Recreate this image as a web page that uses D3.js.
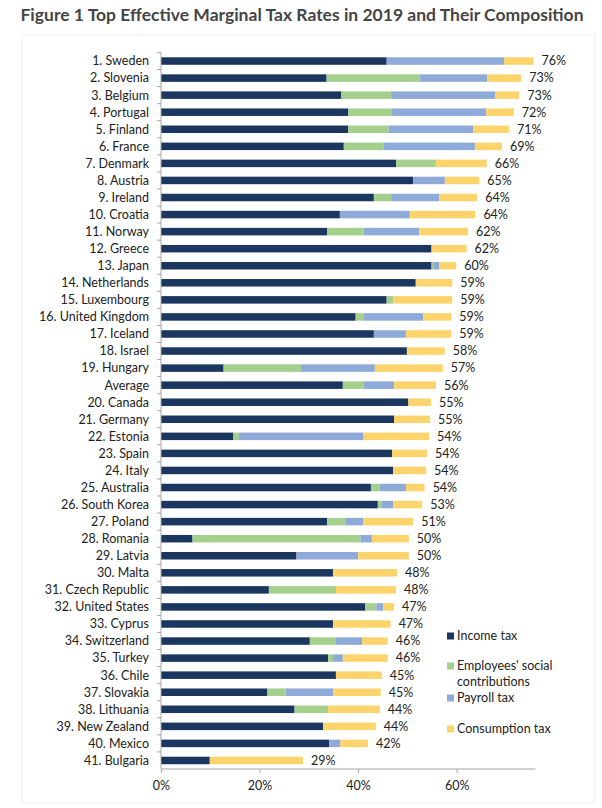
<!DOCTYPE html>
<html>
<head>
<meta charset="utf-8">
<script src="https://cdn.jsdelivr.net/npm/d3@7"></script>
<style>
  body { margin: 0; background: #fff; }
  text { font-family: Lato, "Open Sans", sans-serif; }
</style>
</head>
<body>
<svg id="chart"></svg>
<script>
var w = 602;
var h = 808;

var countries = ["1. Sweden", "2. Slovenia", "3. Belgium", "4. Portugal", "5. Finland", "6. France",
  "7. Denmark", "8. Austria", "9. Ireland", "10. Croatia", "11. Norway", "12. Greece", "13. Japan",
  "14. Netherlands", "15. Luxembourg", "16. United Kingdom", "17. Iceland", "18. Israel", "19. Hungary",
  "Average", "20. Canada", "21. Germany", "22. Estonia", "23. Spain", "24. Italy", "25. Australia",
  "26. South Korea", "27. Poland", "28. Romania", "29. Latvia", "30. Malta", "31. Czech Republic",
  "32. United States", "33. Cyprus", "34. Switzerland", "35. Turkey", "36. Chile", "37. Slovakia",
  "38. Lithuania", "39. New Zealand", "40. Mexico", "41. Bulgaria"];

// percentage points
var incomeTax = [45.8, 33.6, 36.6, 38.0, 38.0, 37.1, 47.7, 51.2, 43.2, 36.3, 33.7, 54.9, 54.9,
  51.7, 45.8, 39.5, 43.2, 49.9, 12.7, 36.9, 50.2, 47.3, 14.7, 46.9, 47.1, 42.6, 44.0, 33.7,
  6.4, 27.5, 34.9, 21.9, 41.4, 34.9, 30.2, 33.9, 35.5, 21.6, 27.1, 32.9, 34.1, 9.9];
var socialContrib = [0, 18.9, 10.1, 8.9, 8.2, 8.1, 8.1, 0, 3.5, 0, 7.4, 0, 0.5,
  0, 1.3, 1.6, 0, 0, 15.7, 4.2, 0, 0, 1.1, 0, 0, 1.8, 0.8, 3.7,
  34.1, 0, 0, 13.6, 2.3, 0, 5.3, 1.0, 0, 3.7, 6.8, 0, 0, 0];
var payrollTax = [23.8, 13.7, 21.2, 19.1, 17.2, 18.5, 0, 6.4, 9.8, 14.2, 11.3, 0, 1.1,
  0, 0, 12.1, 6.5, 0, 15.0, 6.2, 0, 0, 25.3, 0, 0, 5.3, 2.3, 3.6,
  2.3, 12.5, 0, 0, 1.4, 0, 5.3, 2.0, 0, 9.7, 0, 0, 2.3, 0];
var consumptionTax = [6.0, 6.9, 4.8, 5.6, 7.2, 5.5, 10.3, 7.0, 7.7, 13.3, 9.9, 7.1, 3.4,
  7.4, 12.0, 5.7, 9.2, 7.7, 13.8, 8.5, 4.6, 7.3, 13.3, 7.1, 6.7, 3.8, 5.9, 10.2,
  7.5, 10.3, 13.0, 12.2, 2.2, 11.7, 5.2, 9.1, 9.3, 9.6, 10.5, 10.7, 5.6, 18.9];
var totalLabels = ["76%", "73%", "73%", "72%", "71%", "69%", "66%", "65%", "64%", "64%", "62%",
  "62%", "60%", "59%", "59%", "59%", "59%", "58%", "57%", "56%", "55%", "55%", "54%", "54%",
  "54%", "54%", "53%", "51%", "50%", "50%", "48%", "48%", "47%", "47%", "46%", "46%", "45%",
  "45%", "44%", "44%", "42%", "29%"];

var seriesKeys = ["income", "social", "payroll", "consumption"];
var seriesNames = ["Income tax", "Employees' social|contributions", "Payroll tax", "Consumption tax"];
var seriesColors = ["#1b365f", "#a4cf8c", "#8eaad8", "#fdd46c"];
var xTicks = [0, 20, 40, 60];

var rows = countries.map(function (c, i) {
  return { name: c, income: incomeTax[i], social: socialContrib[i],
    payroll: payrollTax[i], consumption: consumptionTax[i], label: totalLabels[i] };
});

var svg = d3.select("#chart").attr("width", w).attr("height", h);

// faint chart frame
svg.append("rect")
  .attr("x", 22).attr("y", 35).attr("width", 573).attr("height", 768)
  .attr("fill", "none").attr("stroke", "#efefef");

svg.append("text")
  .attr("x", 302).attr("y", 21)
  .attr("text-anchor", "middle")
  .style("font-size", "17.5px").style("font-weight", "bold")
  .attr("fill", "#454545")
  .text("Figure 1 Top Effective Marginal Tax Rates in 2019 and Their Composition");

var x = d3.scaleLinear().domain([0, 76]).range([161, 535.5]);
var y = d3.scaleBand().domain(countries).range([52.5, 769]).paddingInner(0.56).paddingOuter(0.28);

var stacked = d3.stack().keys(seriesKeys)(rows);

svg.append("g").selectAll("g")
  .data(stacked)
  .enter().append("g")
  .attr("fill", function (d, i) { return seriesColors[i]; })
  .selectAll("rect")
  .data(function (d) { return d; })
  .enter().append("rect")
  .attr("x", function (d) { return x(d[0]); })
  .attr("y", function (d) { return y(d.data.name); })
  .attr("width", function (d) { return Math.max(0, x(d[1]) - x(d[0])); })
  .attr("height", y.bandwidth());

// total labels
svg.append("g").selectAll("text")
  .data(rows)
  .enter().append("text")
  .attr("x", function (d) { return x(d.income + d.social + d.payroll + d.consumption) + 8; })
  .attr("y", function (d) { return y(d.name) + y.bandwidth() / 2; })
  .attr("dy", "0.35em")
  .style("font-size", "12.5px")
  .attr("fill", "#222")
  .text(function (d) { return d.label; });

// y axis
var yAxis = svg.append("g");
yAxis.append("line")
  .attr("x1", 161).attr("x2", 161).attr("y1", 52.5).attr("y2", 769)
  .attr("stroke", "#a6a6a6");
yAxis.selectAll(".ytick")
  .data(countries)
  .enter().append("line")
  .attr("x1", 157).attr("x2", 161)
  .attr("y1", function (d) { return y(d) - y.bandwidth() * 0.64; })
  .attr("y2", function (d) { return y(d) - y.bandwidth() * 0.64; })
  .attr("stroke", "#a6a6a6");
yAxis.selectAll(".ylab")
  .data(countries)
  .enter().append("text")
  .attr("x", 149)
  .attr("y", function (d) { return y(d) + y.bandwidth() / 2; })
  .attr("dy", "0.35em")
  .attr("text-anchor", "end")
  .style("font-size", "12.5px")
  .attr("fill", "#222")
  .text(function (d) { return d; });

// x axis
var xAxis = svg.append("g").attr("transform", "translate(0,769)")
  .call(d3.axisBottom(x).tickValues(xTicks).tickSize(4)
    .tickFormat(function (d) { return d + "%"; }));
xAxis.select(".domain").attr("stroke", "#a6a6a6").attr("d", "M161,0H535.5");
xAxis.selectAll(".tick line").attr("stroke", "#a6a6a6");
xAxis.selectAll(".tick text")
  .attr("y", 12)
  .style("font-family", "Lato, sans-serif")
  .style("font-size", "12.5px")
  .attr("fill", "#222");

// legend
var legendY = [636, 666, 698, 729];
var legend = svg.append("g").selectAll("g")
  .data(seriesNames)
  .enter().append("g")
  .attr("transform", function (d, i) { return "translate(447," + legendY[i] + ")"; });
legend.append("rect")
  .attr("x", 0).attr("y", -3.5).attr("width", 7).attr("height", 7)
  .attr("fill", function (d, i) { return seriesColors[i]; });
legend.append("text")
  .attr("x", 10)
  .style("font-size", "12.5px")
  .attr("fill", "#222")
  .selectAll("tspan")
  .data(function (d) { return d.split("|"); })
  .enter().append("tspan")
  .attr("x", 10)
  .attr("dy", function (d, i) { return i === 0 ? "0.35em" : "16px"; })
  .text(function (d) { return d; });
</script>
</body>
</html>
